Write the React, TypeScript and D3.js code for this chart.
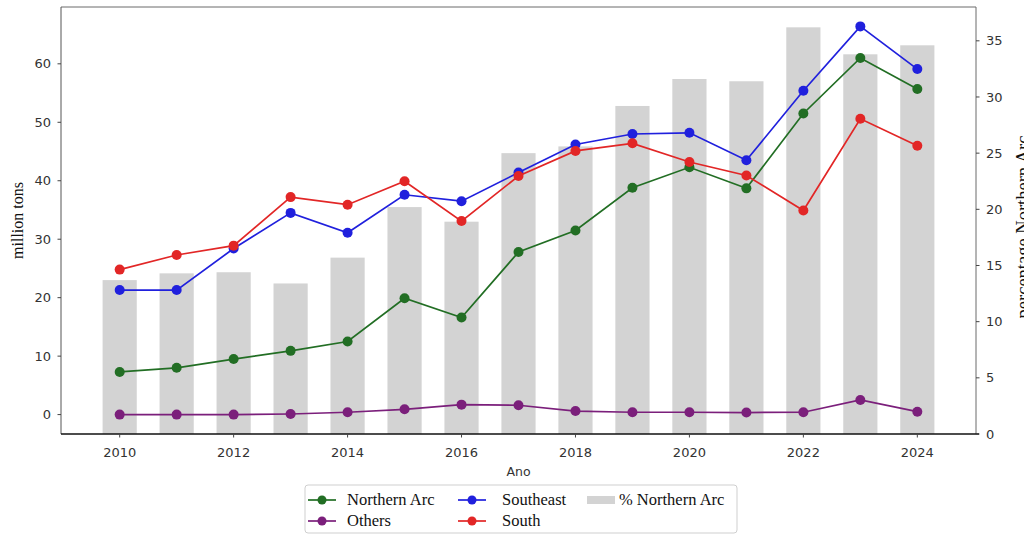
import React from "react";
import * as d3 from "d3";

// Annual values per region (million tons) and the Northern Arc share (%)
const years = [2010, 2011, 2012, 2013, 2014, 2015, 2016, 2017, 2018, 2019, 2020, 2021, 2022, 2023, 2024];
const northernArc = [7.3, 8.0, 9.5, 10.9, 12.5, 19.9, 16.6, 27.8, 31.5, 38.8, 42.3, 38.7, 51.5, 61.0, 55.7];
const southeast = [21.3, 21.3, 28.4, 34.5, 31.1, 37.6, 36.5, 41.4, 46.2, 48.0, 48.2, 43.5, 55.4, 66.4, 59.1];
const south = [24.8, 27.3, 28.9, 37.2, 35.9, 39.9, 33.1, 40.8, 45.1, 46.4, 43.2, 40.9, 34.9, 50.6, 46.0];
const others = [0.0, 0.0, 0.0, 0.1, 0.4, 0.9, 1.7, 1.6, 0.6, 0.4, 0.4, 0.35, 0.4, 2.5, 0.5];
const pctNorthernArc = [13.7, 14.3, 14.4, 13.4, 15.7, 20.2, 18.9, 25.0, 25.6, 29.2, 31.6, 31.4, 36.2, 33.8, 34.6];

const leftTicks = [0, 10, 20, 30, 40, 50, 60];
const rightTicks = [0, 5, 10, 15, 20, 25, 30, 35];
const xTicks = [2010, 2012, 2014, 2016, 2018, 2020, 2022, 2024];

const W = 1024;
const H = 535;
const M = { left: 61, right: 976, top: 7, bottom: 434 };
const BAR_W = 0.6;

const series = [
  { name: "Northern Arc", values: northernArc, color: "#226e24" },
  { name: "Others", values: others, color: "#7b1f7b" },
  { name: "Southeast", values: southeast, color: "#2020dd" },
  { name: "South", values: south, color: "#e22626" },
];

const sans = "'DejaVu Sans', sans-serif";
const serif = "'Liberation Serif', 'DejaVu Serif', serif";

export default function App() {
  // x extent covers the bars, padded 5% on each side
  const xLo = d3.min(years)! - BAR_W / 2;
  const xHi = d3.max(years)! + BAR_W / 2;
  const xPad = (xHi - xLo) * 0.05;
  const x = d3.scaleLinear().domain([xLo - xPad, xHi + xPad]).range([M.left, M.right]);

  const allLines = [...northernArc, ...southeast, ...south, ...others];
  const lMin = d3.min(allLines)!;
  const lMax = d3.max(allLines)!;
  const lPad = (lMax - lMin) * 0.05;
  const yL = d3.scaleLinear().domain([lMin - lPad, lMax + lPad]).range([M.bottom, M.top]);

  const yR = d3.scaleLinear().domain([0, d3.max(pctNorthernArc)! * 1.05]).range([M.bottom, M.top]);

  const line = (vals: number[]) =>
    d3.line<number>().x((_, i) => x(years[i])).y((v) => yL(v))(vals) || "";

  const barPx = x(BAR_W) - x(0);

  const legendRows = [500, 521];
  const legendItems = [
    { s: series[0], hx: 308, tx: 347, row: 0 },
    { s: series[1], hx: 308, tx: 347, row: 1 },
    { s: series[2], hx: 458, tx: 502, row: 0 },
    { s: series[3], hx: 458, tx: 502, row: 1 },
  ];

  return (
    <svg
      width={W}
      height={H}
      style={{ position: "fixed", left: 0, top: 0, background: "#fff" }}
    >
      <rect x={0} y={0} width={W} height={H} fill="#fff" />

      {/* share bars on the right axis */}
      {pctNorthernArc.map((v, i) => (
        <rect
          key={years[i]}
          x={x(years[i]) - barPx / 2}
          y={yR(v)}
          width={barPx}
          height={yR(0) - yR(v)}
          fill="#d3d3d3"
        />
      ))}

      {/* regional lines with markers */}
      {series.map((s) => (
        <g key={s.name}>
          <path d={line(s.values)} fill="none" stroke={s.color} strokeWidth={1.7} />
          {s.values.map((v, i) => (
            <circle key={i} cx={x(years[i])} cy={yL(v)} r={5} fill={s.color} />
          ))}
        </g>
      ))}

      {/* frame */}
      <line x1={M.left} x2={M.right} y1={M.top} y2={M.top} stroke="#6a6a6a" strokeWidth={1} />
      <line x1={M.left} x2={M.left} y1={M.top} y2={M.bottom} stroke="#555" strokeWidth={1} />
      <line x1={M.right} x2={M.right} y1={M.top} y2={M.bottom} stroke="#6a6a6a" strokeWidth={1} />
      <line x1={M.left} x2={M.right + 3} y1={M.bottom} y2={M.bottom} stroke="#111" strokeWidth={1.4} />

      {/* left axis */}
      {leftTicks.map((t) => (
        <g key={`l${t}`}>
          <line x1={M.left - 3.5} x2={M.left} y1={yL(t)} y2={yL(t)} stroke="#444" />
          <text x={51} y={yL(t) + 4.6} textAnchor="end" fontFamily={sans} fontSize={13} fill="#333">
            {t}
          </text>
        </g>
      ))}
      <text
        transform={`translate(23,${(M.top + M.bottom) / 2}) rotate(-90)`}
        textAnchor="middle"
        fontFamily={serif}
        fontSize={16}
        fill="#111"
      >
        million tons
      </text>

      {/* right axis */}
      {rightTicks.map((t) => (
        <g key={`r${t}`}>
          <line x1={M.right} x2={M.right + 3.5} y1={yR(t)} y2={yR(t)} stroke="#444" />
          <text x={986} y={yR(t) + 4.6} textAnchor="start" fontFamily={sans} fontSize={13} fill="#333">
            {t}
          </text>
        </g>
      ))}
      <text
        transform={`translate(1029,227) rotate(-90)`}
        textAnchor="middle"
        fontFamily={serif}
        fontSize={18.5}
        fill="#111"
      >
        percentage Northern Arc
      </text>

      {/* bottom axis */}
      {xTicks.map((t) => (
        <g key={`x${t}`}>
          <line x1={x(t)} x2={x(t)} y1={M.bottom} y2={M.bottom + 3.5} stroke="#444" />
          <text x={x(t)} y={457} textAnchor="middle" fontFamily={sans} fontSize={13} fill="#333">
            {t}
          </text>
        </g>
      ))}
      <text x={(M.left + M.right) / 2} y={476} textAnchor="middle" fontFamily={sans} fontSize={12.5} fill="#333">
        Ano
      </text>

      {/* legend */}
      <rect x={305} y={485} width={432} height={48} rx={3} fill="#fff" stroke="#cfcfcf" strokeWidth={1} />
      {legendItems.map(({ s, hx, tx, row }) => {
        const cy = legendRows[row];
        return (
          <g key={s.name}>
            <line x1={hx} x2={hx + 28} y1={cy} y2={cy} stroke={s.color} strokeWidth={1.7} />
            <circle cx={hx + 14} cy={cy} r={4.5} fill={s.color} />
            <text x={tx} y={cy + 5} fontFamily={serif} fontSize={16.5} fill="#111">
              {s.name}
            </text>
          </g>
        );
      })}
      <rect x={587} y={496} width={28} height={8} fill="#d3d3d3" />
      <text x={619} y={legendRows[0] + 5} fontFamily={serif} fontSize={16.5} fill="#111">
        % Northern Arc
      </text>
    </svg>
  );
}
